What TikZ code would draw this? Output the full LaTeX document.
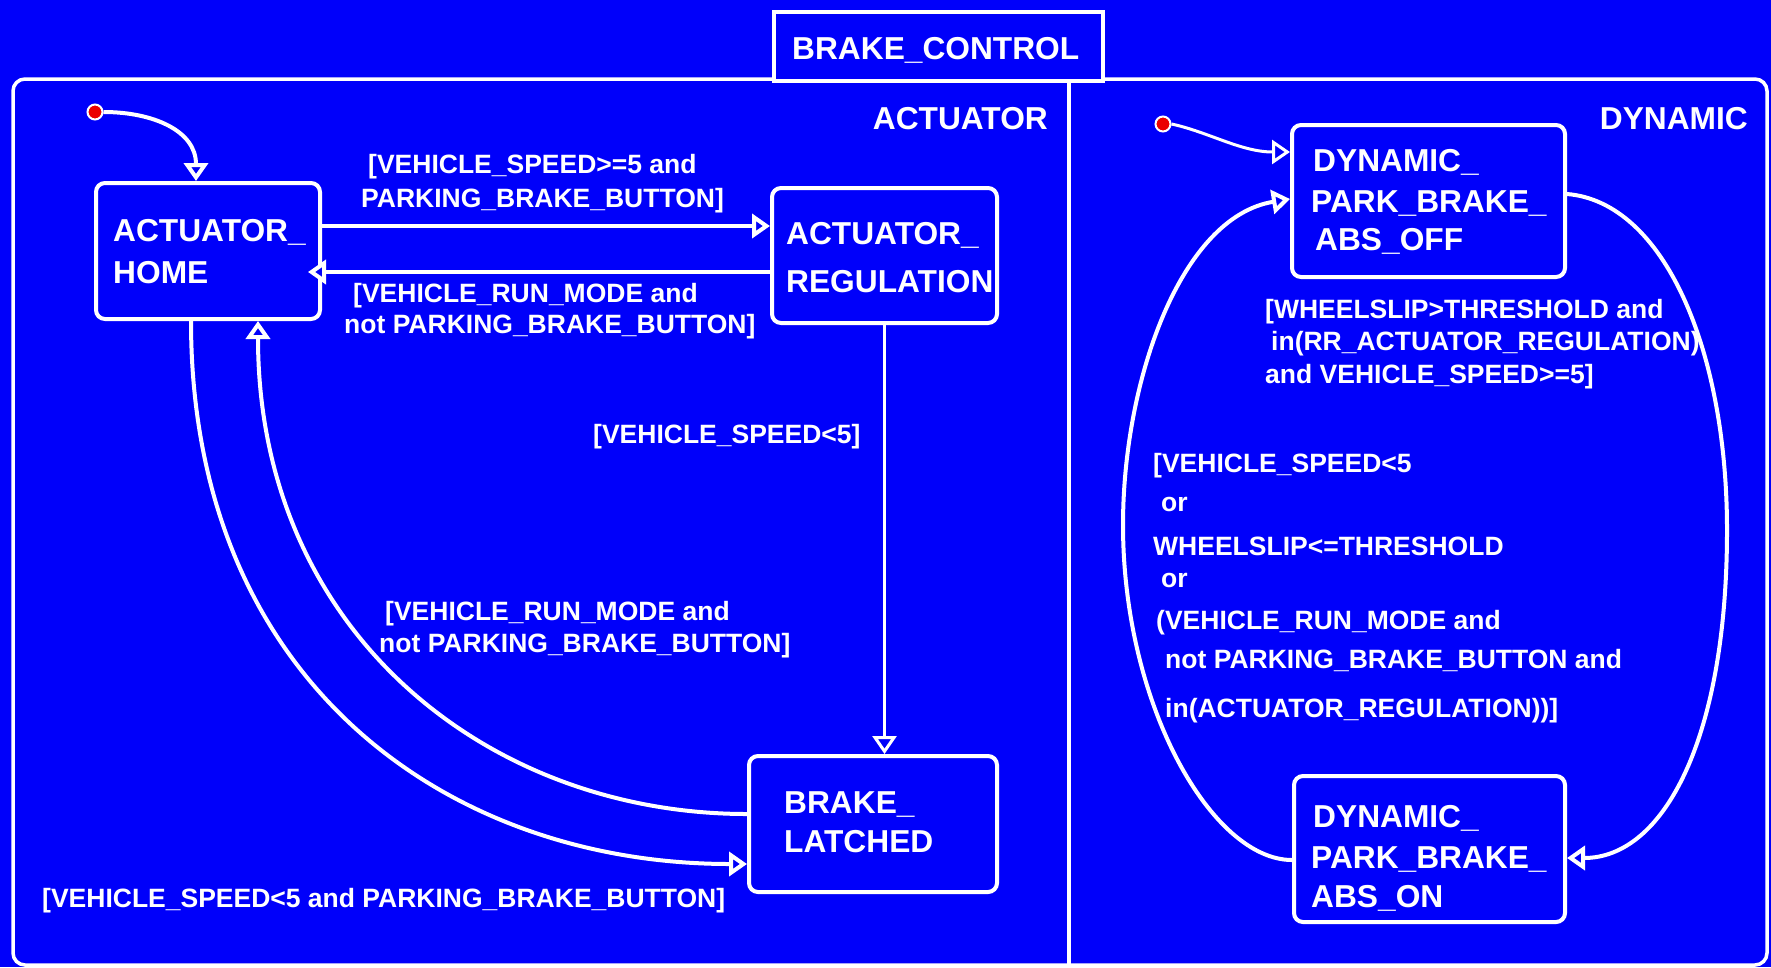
\documentclass[tikz,border=0pt]{standalone}
\usepackage{fontspec}
\setmainfont{Liberation Sans}
\usetikzlibrary{arrows.meta}
\definecolor{bg}{RGB}{0,0,250}
\definecolor{initred}{RGB}{235,0,0}
\tikzset{
  statebox/.style={draw=white, line width=4pt, rounded corners=9pt, fill=bg,
    inner sep=0pt, anchor=north west},
  stname/.style={text=white, font=\bfseries\fontsize{31.7}{36}\selectfont,
    anchor=base west, inner sep=0pt},
  regname/.style={stname, anchor=base east},
  guard/.style={text=white, font=\bfseries\fontsize{26.5}{30}\selectfont,
    anchor=base west, inner sep=0pt},
  trans/.style={draw=white, line width=4pt,
    -{Triangle[open, length=18pt, width=24pt, fill=bg]}},
  initdot/.style={circle, fill=initred, draw=white, line width=2pt,
    minimum size=15pt, inner sep=0pt},
  frameline/.style={draw=white, line width=3.5pt},
}
\begin{document}
\begin{tikzpicture}[x=1pt, y=-1pt]
\fill[bg] (0,0) rectangle (1771,967);
\useasboundingbox (0,0) rectangle (1771,967);

% chart frame, title tab and the divider between the two regions
\draw[frameline, rounded corners=12pt] (13,79) rectangle (1767,965);
\node[frameline, fill=bg, inner sep=0pt, minimum width=329pt, minimum height=69pt,
  anchor=north west] (tab) at (772,10) {};
\node[stname] (title) at (792,59) {BRAKE\_CONTROL};
\draw[frameline] (tab.south -| 1069,0) -- (1069,965);

% region names
\node[regname] (actreg) at (1048,129) {ACTUATOR};
\node[regname] (dynreg) at (1748,129) {DYNAMIC};

% ACTUATOR region states
\node[statebox, minimum width=224pt, minimum height=136pt] (home) at (94,181) {};
\node[stname] at (113,241) {ACTUATOR\_};
\node[stname] at (113,283) {HOME};

\node[statebox, minimum width=225pt, minimum height=135pt] (reg) at (770,186) {};
\node[stname] at (786,244) {ACTUATOR\_};
\node[stname] at (786,292) {REGULATION};

\node[statebox, minimum width=248pt, minimum height=136pt] (latched) at (747,754) {};
\node[stname] at (784,813) {BRAKE\_};
\node[stname] at (784,852) {LATCHED};

% DYNAMIC region states
\node[statebox, minimum width=273pt, minimum height=152pt] (off) at (1290,123) {};
\node[stname] at (1313,171) {DYNAMIC\_};
\node[stname] at (1311,212) {PARK\_BRAKE\_};
\node[stname] at (1315,250) {ABS\_OFF};

\node[statebox, minimum width=271pt, minimum height=146pt] (on) at (1292,774) {};
\node[stname] at (1313,827) {DYNAMIC\_};
\node[stname] at (1311,868) {PARK\_BRAKE\_};
\node[stname] at (1311,907) {ABS\_ON};

% default transitions
\node[initdot] (i1) at (95,112) {};
\node[initdot] (i2) at (1163,124) {};
\draw[trans] (i1.east) .. controls +(50,0) and +(0,-50) .. ([xshift=-12pt]home.north);
\draw[trans, line width=3pt] (i2.east) .. controls +(37,8) and +(-49,0) .. ([yshift=49pt]off.west);

% ACTUATOR transitions
\draw[trans] ([yshift=25pt]home.east) -- ([yshift=25pt]home.east -| reg.west);
\draw[trans, shorten >=-14pt] ([yshift=-21pt]home.east -| reg.west) -- ([yshift=-21pt]home.east);
\draw[trans, line width=3pt] (reg.south) -- (reg.south |- latched.north);
\draw[trans] ([xshift=-17pt]home.south) .. controls +(0,360) and +(-300,0) .. ([yshift=-40pt]latched.west);
\draw[trans] ([yshift=10pt]latched.west) .. controls +(-260,0) and +(0,310) .. ([xshift=50pt]home.south);

% DYNAMIC transitions
\coordinate (lw) at (1123,525);
\coordinate (rw) at (1727,530);
\draw[trans] ([yshift=7pt]off.east) .. controls +(97,8) and +(0,-180) .. (rw)
  .. controls +(0,210) and +(96,0) .. ([yshift=-9pt]on.east);
\draw[trans] ([yshift=-11pt]on.west) .. controls +(-80,0) and +(0,180) .. (lw)
  .. controls +(0,-145) and +(-109,18) .. ([yshift=2pt]off.west);

% guards, ACTUATOR region
\node[guard] at (368,173) {[VEHICLE\_SPEED>=5 and};
\node[guard] at (361,207) {PARKING\_BRAKE\_BUTTON]};
\node[guard] at (353,302) {[VEHICLE\_RUN\_MODE and};
\node[guard] at (344,333) {not PARKING\_BRAKE\_BUTTON]};
\node[guard] at (593,443) {[VEHICLE\_SPEED<5]};
\node[guard] at (385,620) {[VEHICLE\_RUN\_MODE and};
\node[guard] at (379,652) {not PARKING\_BRAKE\_BUTTON]};
\node[guard] at (42,907) {[VEHICLE\_SPEED<5 and PARKING\_BRAKE\_BUTTON]};

% guards, DYNAMIC region
\node[guard] at (1265,318) {[WHEELSLIP>THRESHOLD and};
\node[guard] at (1271,350) {in(RR\_ACTUATOR\_REGULATION)};
\node[guard] at (1265,383) {and VEHICLE\_SPEED>=5]};
\node[guard] at (1153,472) {[VEHICLE\_SPEED<5};
\node[guard] at (1161,511) {or};
\node[guard] at (1153,555) {WHEELSLIP<=THRESHOLD};
\node[guard] at (1161,587) {or};
\node[guard] at (1156,629) {(VEHICLE\_RUN\_MODE and};
\node[guard] at (1165,668) {not PARKING\_BRAKE\_BUTTON and};
\node[guard] at (1165,717) {in(ACTUATOR\_REGULATION))]};
\end{tikzpicture}
\end{document}
